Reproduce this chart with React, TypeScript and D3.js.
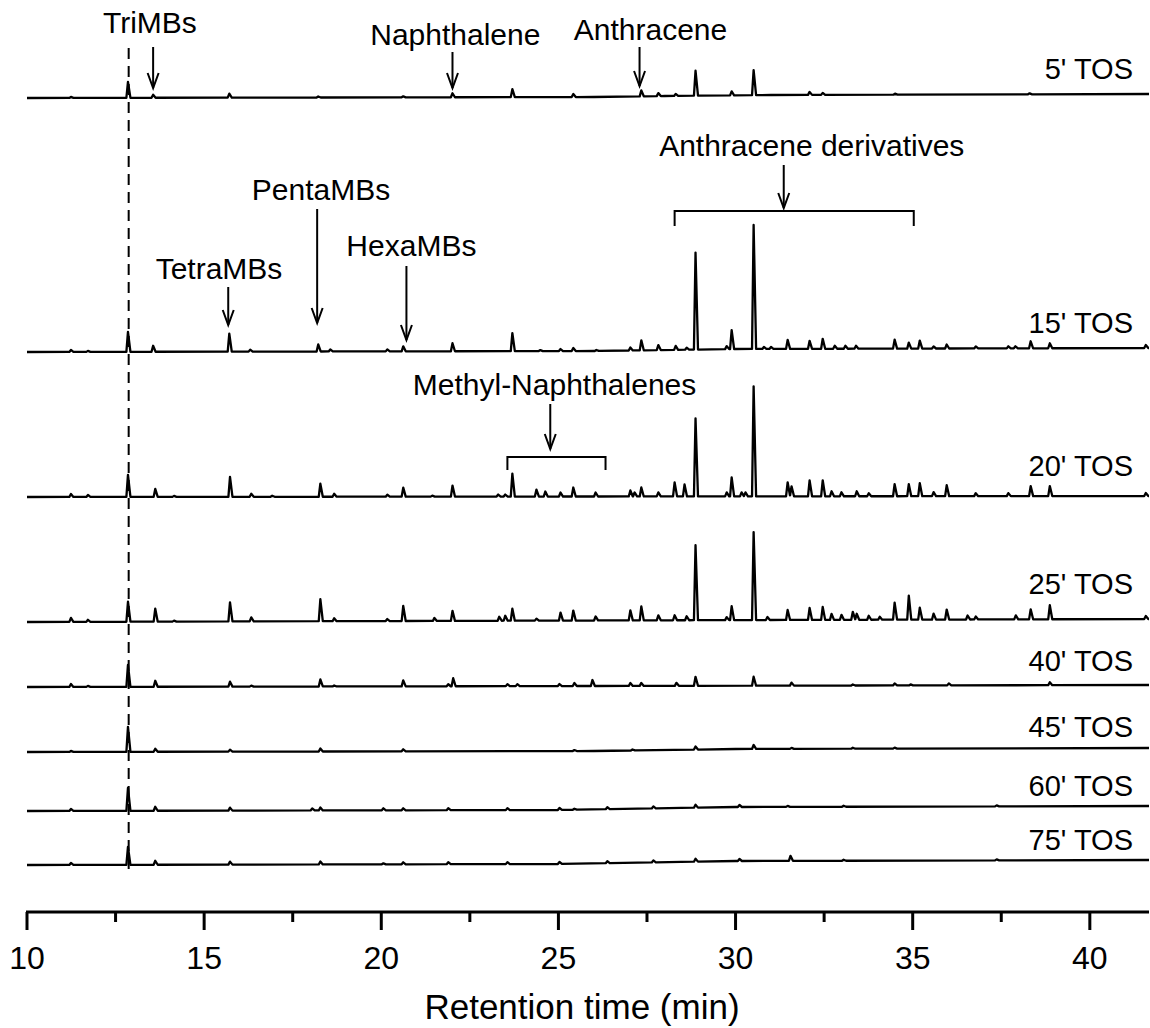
import React from 'react';
import * as d3 from 'd3';

// ---------- data ----------
const X_DOMAIN: [number, number] = [10, 41.67];
const MAJOR_TICKS = [10, 15, 20, 25, 30, 35, 40];
const MINOR_TICKS = [12.5, 17.5, 22.5, 27.5, 32.5, 37.5];
const X_TITLE = 'Retention time (min)';
const TRACE_LABELS = ["5' TOS", "15' TOS", "20' TOS", "25' TOS", "40' TOS", "45' TOS", "60' TOS", "75' TOS"];
const MARKER_TIME = 12.87;

// peaks: [retention time (min), intensity]
const peaks5 = [[11.24,1],[12.85,16],[13.56,3],[15.71,4],[18.22,1],[20.62,1],[22.01,4],[23.7,8],[25.42,3],[27.34,6],[27.82,3],[28.31,2],[28.87,25],[29.89,4],[30.51,25],[32.09,3],[32.46,2],[34.5,1],[38.3,1]];
const peaks15 = [[11.24,2],[11.72,1],[12.85,20],[13.56,6],[15.71,18],[16.3,2],[18.22,7],[18.56,2],[20.17,2],[20.62,5],[22.01,8],[23.7,18],[24.49,1],[25.06,2],[25.42,3],[26.07,1],[27.03,3],[27.34,10],[27.82,5],[28.31,4],[28.62,2],[28.87,97],[29.75,3],[29.89,19],[30.51,124],[30.8,2],[31.0,2],[31.47,9],[32.09,8],[32.46,10],[32.8,3],[33.1,3],[33.4,3],[34.49,9],[34.89,6],[35.2,8],[35.59,2],[35.96,4],[36.78,2],[37.7,2],[37.9,2],[38.33,7],[38.87,5],[41.58,3]];
const peaks20 = [[11.24,3],[11.72,2],[12.85,22],[13.62,8],[14.15,1],[15.73,20],[16.33,3],[16.92,1],[18.28,13],[18.67,3],[20.17,2],[20.62,9],[21.44,1],[22.01,11],[23.3,2],[23.5,2],[23.7,23],[24.38,7],[24.63,5],[25.06,4],[25.42,9],[26.05,4],[27.03,6],[27.15,4],[27.34,9],[27.82,4],[28.28,14],[28.56,12],[28.87,78],[29.75,4],[29.89,19],[30.17,4],[30.28,4],[30.51,110],[31.47,14],[31.58,10],[32.09,16],[32.46,16],[32.71,5],[32.99,4],[33.42,5],[33.76,3],[34.49,12],[34.89,12],[35.2,13],[35.59,4],[35.96,11],[36.78,3],[37.7,3],[38.33,10],[38.87,10],[41.58,3]];
const peaks25 = [[11.24,4],[11.72,2],[12.85,20],[13.62,13],[14.15,1],[15.73,19],[16.33,4],[18.28,22],[18.67,3],[20.17,2],[20.62,15],[21.5,3],[22.01,10],[23.33,4],[23.5,5],[23.7,12],[24.38,2],[25.06,8],[25.42,10],[26.05,4],[27.03,10],[27.34,14],[27.82,5],[28.28,5],[28.62,4],[28.87,75],[29.75,3],[29.89,14],[30.51,88],[30.9,3],[31.47,10],[32.09,12],[32.46,13],[32.71,6],[32.99,5],[33.31,8],[33.42,6],[33.76,4],[34.07,3],[34.49,17],[34.89,24],[35.2,12],[35.59,6],[35.96,10],[36.55,4],[36.78,3],[37.91,4],[38.33,10],[38.87,14],[41.58,3]];
const peaks40 = [[11.24,3],[11.72,1],[12.85,22],[13.62,6],[15.73,5],[16.33,1],[18.28,7],[18.67,1],[20.62,6],[21.89,2],[22.03,8],[23.56,2],[23.84,2],[25.03,2],[25.45,3],[25.96,6],[27.03,3],[27.34,3],[28.33,3],[28.87,9],[30.51,9],[31.58,3],[33.31,1],[34.49,2],[34.94,1],[36.02,2],[38.87,3]];
const peaks45 = [[11.24,1],[12.85,25],[13.62,3],[15.73,2],[18.28,3],[20.62,2],[25.45,1],[27.09,1],[28.87,3],[30.51,4],[31.58,1],[33.31,1],[34.49,1]];
const peaks60 = [[11.24,2],[12.85,23],[13.62,4],[15.73,3],[18.05,2],[18.28,3],[20.06,2],[20.62,2],[21.89,2],[23.56,2],[25.03,2],[25.45,1],[26.38,2],[27.68,2],[28.87,3],[30.11,2],[31.47,1],[33.05,1],[37.37,1]];
const peaks75 = [[11.24,2],[12.85,18],[13.62,4],[15.73,3],[18.28,3],[20.06,1],[20.62,2],[21.89,2],[23.56,2],[25.03,2],[26.38,2],[27.68,2],[28.87,3],[30.11,2],[31.55,5],[33.05,1],[37.37,1]];

// baseline drift: [time, intensity offset]
const drift5 = [[10,0],[26,1],[28,2],[31,3],[41.67,4]];
const drift15 = [[10,0],[26,1],[30,3],[41.67,4]];
const drift20 = [[10,0],[41.67,1]];
const drift25 = [[10,0],[41.67,3]];
const drift40 = [[10,0],[41.67,2]];
const drift45 = [[10,0],[26,1],[30,3],[41.67,4]];
const drift60 = [[10,0],[25,1],[30,4],[41.67,5]];
const drift75 = [[10,0],[25,1],[30,4],[41.67,5]];

const PEAKS = [peaks5, peaks15, peaks20, peaks25, peaks40, peaks45, peaks60, peaks75];
const DRIFTS = [drift5, drift15, drift20, drift25, drift40, drift45, drift60, drift75];

// annotations: text, label time, arrow time
const ANNOT_TEXT = ['TriMBs', 'Naphthalene', 'Anthracene', 'PentaMBs', 'TetraMBs', 'HexaMBs', 'Anthracene derivatives', 'Methyl-Naphthalenes'];
const ANNOT_LABEL_T = [13.47, 22.09, 27.6, 18.3, 15.42, 20.85, 32.15, 24.89];
const ANNOT_ARROW_T = [13.56, 22.01, 27.29, 18.19, 15.68, 20.71, 31.36, 24.77];
const BRACKETS: [number, number][] = [[28.28, 35.03], [23.56, 26.33]];

// ---------- layout ----------
const W = 1150, H = 1028;
const FONT = '"Liberation Sans", Arial, Helvetica, sans-serif';
const BASE_Y = [98, 352, 497, 622, 687, 752, 811, 865];
const LABEL_Y = [79, 333, 476, 594, 671, 737, 796, 850];
const ANNOT_LAYOUT = [
  { ly: 33, y1: 47, y2: 88 },
  { ly: 45, y1: 52, y2: 88 },
  { ly: 40, y1: 47, y2: 86 },
  { ly: 200, y1: 209, y2: 323 },
  { ly: 279, y1: 287, y2: 325 },
  { ly: 256, y1: 266, y2: 340 },
  { ly: 156, y1: 165, y2: 208 },
  { ly: 395, y1: 404, y2: 449 },
];
const BRACKET_LAYOUT = [{ y: 211, y2: 226 }, { y: 457, y2: 470 }];
const AXIS_Y = 912;
const HALF_L = 0.045, HALF_R = 0.07;

function tracePoints(peaks: number[][], drift: number[][]): [number, number][] {
  const driftScale = d3.scaleLinear().domain(drift.map(d => d[0])).range(drift.map(d => d[1])).clamp(true);
  const knots = new Set<number>([X_DOMAIN[0], X_DOMAIN[1], ...drift.map(d => d[0])]);
  peaks.forEach(([t]) => { knots.add(t - HALF_L); knots.add(t); knots.add(t + HALF_R); });
  const ts = Array.from(knots).filter(t => t >= X_DOMAIN[0] && t <= X_DOMAIN[1]).sort((a, b) => a - b);
  return ts.map(t => {
    let v = driftScale(t);
    for (const [p, h] of peaks) {
      if (t > p - HALF_L && t <= p) v += h * (t - (p - HALF_L)) / HALF_L;
      else if (t > p && t < p + HALF_R) v += h * ((p + HALF_R) - t) / HALF_R;
    }
    return [t, v];
  });
}

function Arrow({ x, y1, y2 }: { x: number; y1: number; y2: number }) {
  return (
    <g stroke="#000" strokeWidth={2} fill="none">
      <line x1={x} y1={y1} x2={x} y2={y2} />
      <polyline points={`${x - 5.5},${y2 - 15} ${x},${y2} ${x + 5.5},${y2 - 15}`} />
    </g>
  );
}

export default function App() {
  const x = d3.scaleLinear().domain(X_DOMAIN).range([27, 1149]);
  const yInt = d3.scaleLinear().domain([0, 100]).range([0, -100]);
  const line = d3.line<[number, number]>().x(d => x(d[0])).y(d => yInt(d[1]));

  return (
    <svg width={W} height={H} style={{ display: 'block', position: 'absolute', left: 0, top: 0, background: '#fff' }}
      fontFamily={FONT}>
      <rect width={W} height={H} fill="#fff" />
      {/* dashed marker */}
      <line x1={x(MARKER_TIME)} x2={x(MARKER_TIME)} y1={48} y2={872} stroke="#000" strokeWidth={2} strokeDasharray="11,7" />
      {/* traces */}
      {PEAKS.map((pk, i) => (
        <g key={i} transform={`translate(0,${BASE_Y[i]})`}>
          <path d={line(tracePoints(pk, DRIFTS[i])) || ''} fill="none" stroke="#000" strokeWidth={2.3} strokeLinejoin="round" />
        </g>
      ))}
      {TRACE_LABELS.map((t, i) => (
        <text key={t} x={1133} y={LABEL_Y[i]} textAnchor="end" fontSize={29}>{t}</text>
      ))}
      {/* annotations */}
      {ANNOT_TEXT.map((t, i) => (
        <g key={t}>
          <text x={x(ANNOT_LABEL_T[i])} y={ANNOT_LAYOUT[i].ly} textAnchor="middle" fontSize={30}>{t}</text>
          <Arrow x={x(ANNOT_ARROW_T[i])} y1={ANNOT_LAYOUT[i].y1} y2={ANNOT_LAYOUT[i].y2} />
        </g>
      ))}
      {BRACKETS.map(([a, b], i) => (
        <polyline key={i}
          points={`${x(a)},${BRACKET_LAYOUT[i].y2} ${x(a)},${BRACKET_LAYOUT[i].y} ${x(b)},${BRACKET_LAYOUT[i].y} ${x(b)},${BRACKET_LAYOUT[i].y2}`}
          fill="none" stroke="#000" strokeWidth={2} />
      ))}
      {/* x axis */}
      <line x1={x(X_DOMAIN[0]) - 1} x2={x(X_DOMAIN[1])} y1={AXIS_Y} y2={AXIS_Y} stroke="#000" strokeWidth={3} />
      {MAJOR_TICKS.map(t => (
        <g key={t}>
          <line x1={x(t)} x2={x(t)} y1={AXIS_Y} y2={AXIS_Y + 18} stroke="#000" strokeWidth={3} />
          <text x={x(t)} y={969} textAnchor="middle" fontSize={32}>{t}</text>
        </g>
      ))}
      {MINOR_TICKS.map(t => (
        <line key={t} x1={x(t)} x2={x(t)} y1={AXIS_Y} y2={AXIS_Y + 10} stroke="#000" strokeWidth={3} />
      ))}
      <text x={582} y={1019} textAnchor="middle" fontSize={35}>{X_TITLE}</text>
    </svg>
  );
}
